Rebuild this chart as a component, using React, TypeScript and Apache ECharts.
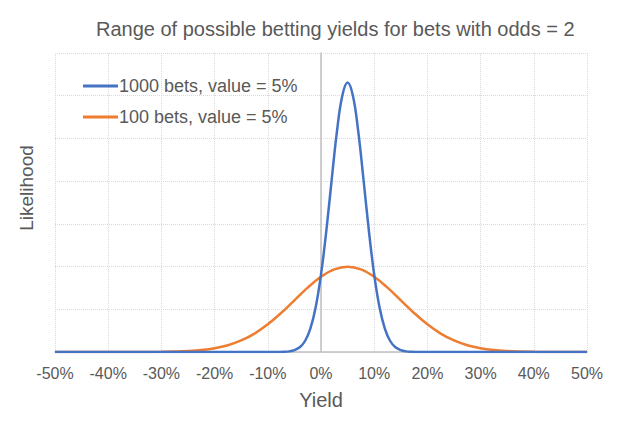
import React, { useEffect, useRef } from "react";
import * as echarts from "echarts";

const titleText = "Range of possible betting yields for bets with odds = 2";
const yAxisTitle = "Likelihood";
const xAxisTitle = "Yield";
const seriesNames = ["1000 bets, value = 5%", "100 bets, value = 5%"];
const xTicks = [-50, -40, -30, -20, -10, 0, 10, 20, 30, 40, 50];

// 1000 bets: yield (%) and likelihood
const yield1000 = [-50, -30, -20, -14, -12, -10, -9, -8, -7, -6, -5, -4, -3, -2, -1, 0, 1, 2, 3, 4, 5, 6, 7, 8, 9, 10, 11, 12, 13, 14, 15, 16, 17, 18, 19, 20, 22, 24, 30, 40, 50];
const like1000 = [0, 0, 0, 0, 0, 0.0000016, 0.000007, 0.000027, 0.0000943, 0.000298, 0.00085, 0.0022, 0.00515, 0.0109, 0.0209, 0.0362, 0.0567, 0.0805, 0.1033, 0.12, 0.1262, 0.12, 0.1033, 0.0805, 0.0567, 0.0362, 0.0209, 0.0109, 0.00515, 0.0022, 0.00085, 0.000298, 0.0000943, 0.000027, 0.000007, 0.0000016, 0, 0, 0, 0, 0];

// 100 bets: yield (%) and likelihood
const yield100 = [-50, -47.5, -45, -42.5, -40, -37.5, -35, -32.5, -30, -27.5, -25, -22.5, -20, -17.5, -15, -12.5, -10, -7.5, -5, -2.5, 0, 2.5, 5, 7.5, 10, 12.5, 15, 17.5, 20, 22.5, 25, 27.5, 30, 32.5, 35, 37.5, 40, 42.5, 45, 47.5, 50];
const like100 = [0, 0, 0, 0, 0.000002, 0.000005, 0.0000134, 0.0000353, 0.0000873, 0.000203, 0.000443, 0.00091, 0.00175, 0.00318, 0.0054, 0.00863, 0.01295, 0.01827, 0.0242, 0.03012, 0.03521, 0.03867, 0.0399, 0.03867, 0.03521, 0.03012, 0.0242, 0.01827, 0.01295, 0.00863, 0.0054, 0.00318, 0.00175, 0.00091, 0.000443, 0.000203, 0.0000873, 0.0000353, 0.0000134, 0.000005, 0.000002];

const colors = ["#4472C4", "#ED7D31"];

export default function App() {
  const ref = useRef<HTMLDivElement>(null);
  useEffect(() => {
    if (!ref.current) return;
    const chart = echarts.init(ref.current, null, { renderer: "svg" });
    const font = "Liberation Sans, Arial, sans-serif";
    chart.setOption({
      animation: false,
      backgroundColor: "#ffffff",
      title: {
        text: titleText,
        left: 91,
        top: 14,
        textStyle: { fontFamily: font, fontSize: 20, fontWeight: "normal", color: "#595959" },
      },
      legend: {
        orient: "vertical",
        left: 78,
        top: 72,
        itemWidth: 35,
        itemHeight: 3,
        itemGap: 13,
        icon: "rect",
        textStyle: { fontFamily: font, fontSize: 18, color: "#595959", padding: [0, 0, 0, -4] },
        data: seriesNames,
      },
      graphic: [
        {
          type: "text",
          x: 26,
          y: 188,
          rotation: Math.PI / 2,
          style: {
            text: yAxisTitle,
            fontFamily: font,
            fontSize: 19,
            fill: "#595959",
            align: "center",
            verticalAlign: "middle",
          },
        },
      ],
      grid: { left: 55, right: 38, top: 53, bottom: 70, containLabel: false },
      xAxis: {
        type: "value",
        min: -50,
        max: 50,
        interval: 10,
        name: xAxisTitle,
        nameLocation: "middle",
        nameGap: 38,
        nameTextStyle: { fontFamily: font, fontSize: 20, color: "#595959" },
        axisLine: { show: true, onZero: false, lineStyle: { color: "#BFBFBF", width: 1.5 } },
        axisTick: { show: false },
        axisLabel: {
          fontFamily: font,
          fontSize: 16,
          color: "#595959",
          margin: 13,
          formatter: (v: number) => (xTicks.includes(v) ? `${v}%` : ""),
        },
        splitLine: { show: true, lineStyle: { color: "#D9D9D9", type: "dotted", width: 1 } },
      },
      yAxis: {
        type: "value",
        min: 0,
        max: 0.14,
        interval: 0.02,
        axisLine: { show: true, onZero: true, lineStyle: { color: "#BFBFBF", width: 1.5 } },
        axisTick: { show: false },
        axisLabel: { show: false },
        splitLine: { show: true, lineStyle: { color: "#D9D9D9", type: "dotted", width: 1 } },
      },
      series: [
        {
          name: seriesNames[0],
          type: "line",
          data: yield1000.map((x, i) => [x, like1000[i]]),
          smooth: 0.4,
          showSymbol: false,
          symbol: "none",
          lineStyle: { color: colors[0], width: 2.5 },
          itemStyle: { color: colors[0] },
          z: 3,
        },
        {
          name: seriesNames[1],
          type: "line",
          data: yield100.map((x, i) => [x, like100[i]]),
          smooth: 0.4,
          showSymbol: false,
          symbol: "none",
          lineStyle: { color: colors[1], width: 2.5 },
          itemStyle: { color: colors[1] },
          z: 2,
        },
      ],
    });
    return () => chart.dispose();
  }, []);
  return <div ref={ref} style={{ width: 625, height: 422, position: "absolute", left: 0, top: 0 }} />;
}
